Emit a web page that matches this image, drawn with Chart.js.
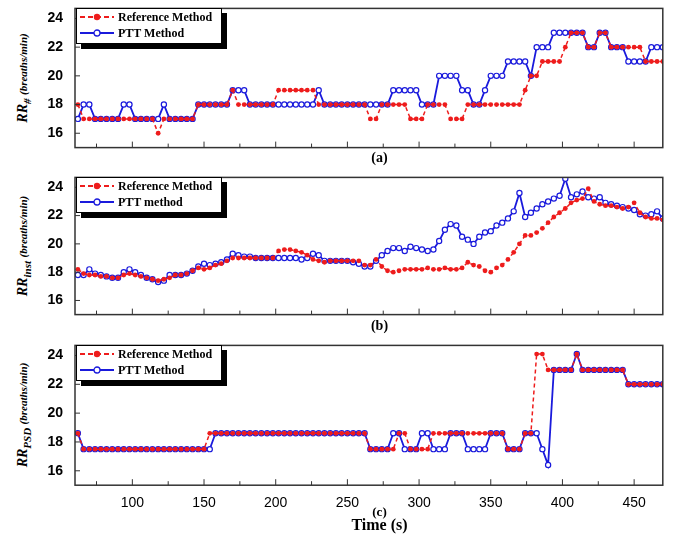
<!DOCTYPE html>
<html>
<head>
<meta charset="utf-8">
<script src="https://cdn.jsdelivr.net/npm/chart.js@4.4.1/dist/chart.umd.min.js"></script>
<style>
  body { margin: 0; background: #fff; width: 683px; height: 540px; position: relative; overflow: hidden; font-family: "Liberation Serif", serif; }
  .wrap { position: absolute; left: 40px; width: 628px; }
  .legend { position: absolute; left: 76px; width: 144px; height: 34px; background: #fff; border: 1px solid #000; box-shadow: 5px 5px 0 #000; font-weight: bold; font-size: 12px; }
  .legend div { height: 16px; line-height: 16px; display: flex; align-items: center; }
  .legend svg { margin: 0 3px 0 2px; }
  .ytitle { position: absolute; left: 24px; transform: translate(-50%, -50%) rotate(-90deg); white-space: nowrap; font-weight: bold; font-style: italic; font-size: 14px; }
  .ytitle small { font-size: 11px; }
  .ytitle sub { font-size: 11px; }
  .plab { position: absolute; width: 683px; left: 38px; text-align: center; font-weight: bold; font-size: 14px; }
</style>
</head>
<body>
<div class="wrap" style="top:-4px;height:164px"><canvas id="ca"></canvas></div>
<div class="wrap" style="top:165px;height:162px"><canvas id="cb"></canvas></div>
<div class="wrap" style="top:333px;height:181px"><canvas id="cc"></canvas></div>

<div class="ytitle" style="top:78px">RR<sub>#</sub> <small>(breaths/min)</small></div>
<div class="ytitle" style="top:246px">RR<sub>inst</sub> <small>(breaths/min)</small></div>
<div class="ytitle" style="top:415px">RR<sub>PSD</sub> <small>(breaths/min)</small></div>

<div class="plab" style="top:150px">(a)</div>
<div class="plab" style="top:318px">(b)</div>
<div class="plab" style="top:504px;font-size:13px">(c)</div>
<div class="plab" style="top:516px;font-size:16px">Time (s)</div>

<div id="lega" class="legend" style="top:8px"></div>
<div id="legb" class="legend" style="top:177px"></div>
<div id="legc" class="legend" style="top:345px"></div>

<script>
// time axis (s)
const times = [62,66,70,74,78,82,86,90,94,98,102,106,110,114,118,122,126,130,134,138,
  142,146,150,154,158,162,166,170,174,178,182,186,190,194,198,202,206,210,214,218,
  222,226,230,234,238,242,246,250,254,258,262,266,270,274,278,282,286,290,294,298,
  302,306,310,314,318,322,326,330,334,338,342,346,350,354,358,362,366,370,374,378,
  382,386,390,394,398,402,406,410,414,418,422,426,430,434,438,442,446,450,454,458,
  462,466,470];
const xTicks = [75,100,125,150,175,200,225,250,275,300,325,350,375,400,425,450];
const yTicks = [16,18,20,22,24];

// (a) counting method
const refA = [18,17,17,17,17,17,17,17,17,17, 17,17,17,17,16,17,17,17,17,17,
  17,18,18,18,18,18,18,19,18,18, 18,18,18,18,18,19,19,19,19,19, 19,19,18,18,18,18,18,18,18,18,
  18,17,17,18,18,18,18,18,17,17, 17,18,18,18,18,17,17,17,18,18, 18,18,18,18,18,18,18,18,19,20,
  20,21,21,21,21,22,23,23,23,22, 22,23,23,22,22,22,22,22,22,21, 21,21,21];
const pttA = [17,18,18,17,17,17,17,17,18,18, 17,17,17,17,17,18,17,17,17,17,
  17,18,18,18,18,18,18,19,19,19, 18,18,18,18,18,18,18,18,18,18, 18,18,19,18,18,18,18,18,18,18,
  18,18,18,18,18,19,19,19,19,19, 18,18,18,20,20,20,20,19,19,18, 18,19,20,20,20,21,21,21,21,20,
  22,22,22,23,23,23,23,23,23,22, 22,23,23,22,22,22,21,21,21,21, 22,22,22];

// (b) instantaneous
const refB = [18.2,17.9,17.8,17.8,17.7,17.7,17.6,17.6,17.8,17.9, 17.8,17.7,17.6,17.5,17.4,17.5,17.6,17.8,17.8,17.9,
  18.1,18.3,18.2,18.3,18.5,18.6,18.8,19.0,19.0,19.0, 19.0,19.0,19.0,19.0,19.0,19.5,19.6,19.6,19.5,19.4,
  19.2,18.9,18.8,18.7,18.8,18.8,18.8,18.8,18.8,18.8, 18.5,18.5,18.9,18.4,18.1,18.0,18.1,18.2,18.2,18.2,
  18.2,18.3,18.2,18.2,18.3,18.2,18.2,18.3,18.7,18.5, 18.4,18.1,18.0,18.3,18.5,18.9,19.4,20.0,20.6,20.6,
  20.8,21.1,21.5,21.9,22.2,22.5,22.9,23.1,23.2,23.9, 23.0,22.8,22.7,22.7,22.6,22.5,22.6,22.9,22.2,21.9,
  21.8,21.8,21.7];
const pttB = [17.8,17.8,18.2,17.9,17.8,17.7,17.6,17.6,18.0,18.2, 18.0,17.8,17.6,17.5,17.3,17.4,17.8,17.8,17.8,17.9,
  18.1,18.4,18.6,18.5,18.6,18.7,18.9,19.3,19.2,19.1, 19.1,19.0,19.0,19.0,19.0,19.0,19.0,19.0,19.0,18.9,
  19.0,19.3,19.2,18.8,18.8,18.8,18.8,18.8,18.7,18.6, 18.4,18.4,18.8,19.2,19.5,19.7,19.7,19.5,19.8,19.7,
  19.6,19.5,19.6,20.2,21.0,21.4,21.3,20.5,20.3,20.0, 20.5,20.8,20.9,21.3,21.5,21.8,22.3,23.6,21.9,22.2,
  22.5,22.8,23.0,23.2,23.4,24.6,23.3,23.5,23.7,23.3, 23.2,23.3,22.9,22.8,22.7,22.6,22.5,22.4,22.1,22.0,
  22.1,22.3,21.8];

// (c) PSD
const refC = [18.6,17.5,17.5,17.5,17.5,17.5,17.5,17.5,17.5,17.5, 17.5,17.5,17.5,17.5,17.5,17.5,17.5,17.5,17.5,17.5,
  17.5,17.5,17.5,18.6,18.6,18.6,18.6,18.6,18.6,18.6, 18.6,18.6,18.6,18.6,18.6,18.6,18.6,18.6,18.6,18.6,
  18.6,18.6,18.6,18.6,18.6,18.6,18.6,18.6,18.6,18.6, 18.6,17.5,17.5,17.5,17.5,17.5,18.6,18.6,17.5,17.5,
  17.5,17.5,18.6,18.6,18.6,18.6,18.6,18.6,18.6,18.6, 18.6,18.6,18.6,18.6,18.6,17.5,17.5,17.5,18.6,18.6,
  24.1,24.1,23.0,23.0,23.0,23.0,23.0,24.1,23.0,23.0, 23.0,23.0,23.0,23.0,23.0,23.0,22.0,22.0,22.0,22.0,
  22.0,22.0,22.0];
const pttC = [18.6,17.5,17.5,17.5,17.5,17.5,17.5,17.5,17.5,17.5, 17.5,17.5,17.5,17.5,17.5,17.5,17.5,17.5,17.5,17.5,
  17.5,17.5,17.5,17.5,18.6,18.6,18.6,18.6,18.6,18.6, 18.6,18.6,18.6,18.6,18.6,18.6,18.6,18.6,18.6,18.6,
  18.6,18.6,18.6,18.6,18.6,18.6,18.6,18.6,18.6,18.6, 18.6,17.5,17.5,17.5,17.5,18.6,18.6,17.5,17.5,17.5,
  18.6,18.6,17.5,17.5,17.5,18.6,18.6,18.6,17.5,17.5, 17.5,17.5,18.6,18.6,18.6,17.5,17.5,17.5,18.6,18.6,
  18.6,17.5,16.4,23.0,23.0,23.0,23.0,24.1,23.0,23.0, 23.0,23.0,23.0,23.0,23.0,23.0,22.0,22.0,22.0,22.0,
  22.0,22.0,22.0];

const RED = '#ee1c1c', BLUE = '#1a1adc';

// tick marks drawn inside the plot area, like the original
const innerTicks = {
  id: 'innerTicks',
  afterDraw(chart) {
    const { ctx, chartArea: a, scales: { x, y } } = chart;
    ctx.save();
    ctx.strokeStyle = '#333';
    ctx.lineWidth = 1;
    xTicks.forEach(v => {
      const px = x.getPixelForValue(v);
      const len = v % 50 === 0 ? 6 : 4;
      ctx.beginPath(); ctx.moveTo(px, a.bottom); ctx.lineTo(px, a.bottom - len); ctx.stroke();
    });
    yTicks.forEach(v => {
      const py = y.getPixelForValue(v);
      ctx.beginPath(); ctx.moveTo(a.left, py); ctx.lineTo(a.left + 5, py); ctx.stroke();
    });
    ctx.lineWidth = 1.5;
    ctx.strokeRect(a.left, a.top, a.right - a.left, a.bottom - a.top);
    ctx.restore();
  }
};

function makeChart(id, ref, ptt, showX) {
  const pts = arr => arr.map((v, i) => ({ x: times[i], y: v }));
  new Chart(document.getElementById(id), {
    type: 'line',
    data: {
      datasets: [
        { data: pts(ref), borderColor: RED, backgroundColor: RED, borderWidth: 1.5, borderDash: [4, 3],
          pointRadius: 2.4, pointBackgroundColor: RED, pointBorderColor: RED, pointBorderWidth: 0 },
        { data: pts(ptt), borderColor: BLUE, backgroundColor: '#fff', borderWidth: 1.8,
          pointRadius: 2.6, pointBackgroundColor: '#fff', pointBorderColor: BLUE, pointBorderWidth: 1.2 }
      ]
    },
    options: {
      responsive: true, maintainAspectRatio: false, animation: false,
      layout: { padding: { top: 4, right: 2 } },
      plugins: { legend: { display: false }, tooltip: { enabled: false } },
      scales: {
        x: {
          type: 'linear', min: 60, max: 470,
          grid: { display: false }, border: { display: false },
          afterBuildTicks: s => { s.ticks = xTicks.filter(v => v % 50 === 0).map(v => ({ value: v })); },
          afterFit: s => { if (!showX) s.height = 0; },
          ticks: { display: showX, color: '#000', font: { family: 'Liberation Sans, Arial', size: 14 }, maxRotation: 0, padding: 2 }
        },
        y: {
          min: 15, max: 24.7,
          grid: { display: false }, border: { display: false },
          afterBuildTicks: s => { s.ticks = yTicks.map(v => ({ value: v })); },
          afterFit: s => { s.width = 35; },
          ticks: { color: '#000', font: { family: 'Liberation Sans, Arial', weight: 'bold', size: 14 }, padding: 4 }
        }
      }
    },
    plugins: [innerTicks]
  });
}

function legendHtml(second) {
  const redSym = '<svg width="36" height="10"><line x1="1" y1="5" x2="35" y2="5" stroke="' + RED + '" stroke-width="2" stroke-dasharray="5,3"/><circle cx="18" cy="5" r="3.2" fill="' + RED + '"/></svg>';
  const blueSym = '<svg width="36" height="10"><line x1="1" y1="5" x2="35" y2="5" stroke="' + BLUE + '" stroke-width="2"/><circle cx="18" cy="5" r="3" fill="#fff" stroke="' + BLUE + '" stroke-width="1.3"/></svg>';
  return '<div>' + redSym + 'Reference Method</div><div>' + blueSym + second + '</div>';
}

document.getElementById('lega').innerHTML = legendHtml('PTT Method');
document.getElementById('legb').innerHTML = legendHtml('PTT method');
document.getElementById('legc').innerHTML = legendHtml('PTT Method');

makeChart('ca', refA, pttA, false);
makeChart('cb', refB, pttB, false);
makeChart('cc', refC, pttC, true);
</script>
</body>
</html>
